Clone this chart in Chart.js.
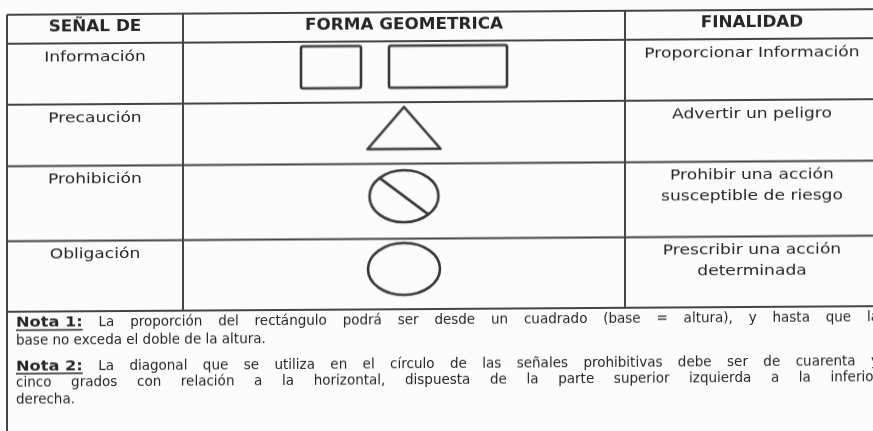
<!DOCTYPE html>
<html>
<head>
<meta charset="utf-8">
<script src="https://cdn.jsdelivr.net/npm/chart.js@4.4.0/dist/chart.umd.min.js"></script>
<style>
  html, body { margin: 0; padding: 0; background: #fbfbfb; overflow: hidden; }
  /* the scanned page is sheared a little: right side sits higher */
  canvas { display: block; transform: skewY(-0.37deg); }
</style>
</head>
<body>
<canvas id="signs" width="873" height="431"></canvas>
<script>
// table content
var headers = ["SEÑAL DE", "FORMA GEOMETRICA", "FINALIDAD"];
var categories = ["Información", "Precaución", "Prohibición", "Obligación"];
var purposes = [
    ["Proporcionar Información"],
    ["Advertir un peligro"],
    ["Prohibir una acción", "susceptible de riesgo"],
    ["Prescribir una acción", "determinada"]
];
var shapes = [["square", "rectangle"], ["triangle"], ["prohibition"], ["circle"]];
var noteLabels = ["Nota 1:", "Nota 2:"];
var noteLines = [
    ["La proporción del rectángulo podrá ser desde un cuadrado (base = altura), y hasta que la",
     "base no exceda el doble de la altura."],
    ["La diagonal que se utiliza en el círculo de las señales prohibitivas debe ser de cuarenta y",
     "cinco grados con relación a la horizontal, dispuesta de la parte superior izquierda a la inferior",
     "derecha."]
];

// page geometry (in scale units = px)
var layout = {
    cols: [7, 183, 625, 879],
    rows: [12, 41, 102, 163.5, 238.5, 309],
    bottom: 431,
    headerY: 25.5,
    labelDy: 14,
    purposeDy: 14,
    purposeGap: 21,
    shapeDy: -5,
    shapeGap: 28,
    notesX: 16,
    notesRight: 879,
    notesY: [[320.5, 338.5], [364, 380.5, 397.5]]
};
var ink = "#262626";
var lineInk = "#444444";

// icon sizes for the geometric forms
var iconSize = {
    square: [60, 42],
    rectangle: [118, 42],
    triangle: [73, 42],
    prohibition: [69, 52],
    circle: [72, 52]
};

function makeIcon(kind) {
    var w = iconSize[kind][0], h = iconSize[kind][1], pad = 3;
    var c = document.createElement("canvas");
    c.width = w + pad * 2;
    c.height = h + pad * 2;
    var g = c.getContext("2d");
    g.strokeStyle = "#383838";
    g.lineWidth = 2.6;
    g.lineJoin = "round";
    g.translate(pad, pad);
    g.beginPath();
    if (kind === "square" || kind === "rectangle") {
        g.roundRect(0, 0, w, h, 2);
    } else if (kind === "triangle") {
        g.moveTo(w / 2, 0);
        g.lineTo(w, h);
        g.lineTo(0, h);
        g.closePath();
    } else {
        g.ellipse(w / 2, h / 2, w / 2, h / 2, 0, 0, Math.PI * 2);
        if (kind === "prohibition") {
            var a = -3 * Math.PI / 4;
            g.moveTo(w / 2 + Math.cos(a) * w / 2, h / 2 + Math.sin(a) * h / 2);
            g.lineTo(w / 2 - Math.cos(a) * w / 2, h / 2 - Math.sin(a) * h / 2);
        }
    }
    g.stroke();
    return c;
}
var icons = {};
Object.keys(iconSize).forEach(function (k) { icons[k] = makeIcon(k); });

// one point per form, centred in its cell
var points = [];
shapes.forEach(function (row, i) {
    var total = row.reduce(function (s, k) { return s + iconSize[k][0]; }, 0) + layout.shapeGap * (row.length - 1);
    var x = (layout.cols[1] + layout.cols[2]) / 2 - total / 2;
    var y = (layout.rows[i + 1] + layout.rows[i + 2]) / 2 + layout.shapeDy;
    row.forEach(function (k) {
        points.push({ x: x + iconSize[k][0] / 2, y: y, kind: k });
        x += iconSize[k][0] + layout.shapeGap;
    });
});

// the scanned font is much wider than DejaVu, so stretch it a bit
function wideText(ctx, text, x, y, k) {
    ctx.save();
    ctx.translate(x, y);
    ctx.scale(k, 1);
    ctx.fillText(text, 0, 0);
    ctx.restore();
}

function drawWords(ctx, parts, x, y, right, justify) {
    // parts: [{text, font, k, underline}] ; underlined parts stay one token
    var words = [];
    parts.forEach(function (p) {
        var toks = p.underline ? [p.text] : p.text.split(" ");
        var k = p.k || 1;
        toks.forEach(function (w) {
            ctx.font = p.font;
            words.push({ t: w, font: p.font, k: k, u: p.underline, w: ctx.measureText(w).width * k });
        });
    });
    ctx.font = parts[parts.length - 1].font;
    var space = ctx.measureText(" ").width;
    var sum = words.reduce(function (s, w) { return s + w.w; }, 0);
    var gap = space;
    if (justify && words.length > 1) gap = Math.max(space * 0.8, (right - x - sum) / (words.length - 1));
    var cx = x;
    words.forEach(function (w) {
        ctx.font = w.font;
        wideText(ctx, w.t, cx, y, w.k);
        if (w.u) {
            ctx.beginPath();
            ctx.lineWidth = 1.4;
            ctx.moveTo(cx, y + 7);
            ctx.lineTo(cx + w.w, y + 7);
            ctx.stroke();
        }
        cx += w.w + gap;
    });
}

var tablePlugin = {
    id: "signTable",
    beforeDatasetsDraw: function (chart) {
        var ctx = chart.ctx, sx = chart.scales.x, sy = chart.scales.y;
        var X = function (v) { return sx.getPixelForValue(v); };
        var Y = function (v) { return sy.getPixelForValue(v); };
        var cols = layout.cols, rows = layout.rows;
        ctx.save();
        ctx.fillStyle = "#fbfbfb";
        ctx.fillRect(0, 0, chart.width, chart.height);
        ctx.strokeStyle = lineInk;
        ctx.lineWidth = 2;
        ctx.beginPath();
        rows.forEach(function (r) {
            ctx.moveTo(X(cols[0]), Y(r));
            ctx.lineTo(X(cols[3]), Y(r));
        });
        ctx.moveTo(X(cols[0]), Y(rows[0]));
        ctx.lineTo(X(cols[0]), Y(layout.bottom));
        [cols[1], cols[2], cols[3]].forEach(function (c) {
            ctx.moveTo(X(c), Y(rows[0]));
            ctx.lineTo(X(c), Y(rows[rows.length - 1]));
        });
        ctx.stroke();
        ctx.restore();
    },
    afterDatasetsDraw: function (chart) {
        var ctx = chart.ctx, sx = chart.scales.x, sy = chart.scales.y;
        var X = function (v) { return sx.getPixelForValue(v); };
        var Y = function (v) { return sy.getPixelForValue(v); };
        var cols = layout.cols, rows = layout.rows;
        ctx.save();
        ctx.fillStyle = ink;
        ctx.strokeStyle = ink;
        ctx.textBaseline = "middle";
        ctx.textAlign = "center";

        ctx.font = "bold 15px 'DejaVu Sans'";
        headers.forEach(function (h, i) {
            wideText(ctx, h, X((cols[i] + cols[i + 1]) / 2), Y(layout.headerY), 1.12);
        });

        ctx.font = "14.5px 'DejaVu Sans'";
        categories.forEach(function (c, i) {
            wideText(ctx, c, X((cols[0] + cols[1]) / 2), Y(rows[i + 1] + layout.labelDy), 1.18);
        });
        purposes.forEach(function (lines, i) {
            lines.forEach(function (t, j) {
                wideText(ctx, t, X((cols[2] + cols[3]) / 2), Y(rows[i + 1] + layout.purposeDy + j * layout.purposeGap), 1.18);
            });
        });

        ctx.textAlign = "left";
        var body = "13.5px 'DejaVu Sans'";
        var bold = "bold 13.5px 'DejaVu Sans'";
        noteLines.forEach(function (lines, n) {
            lines.forEach(function (t, j) {
                var parts = j === 0
                    ? [{ text: noteLabels[n], font: bold, k: 1.2, underline: true }, { text: t, font: body }]
                    : [{ text: t, font: body }];
                var justify = j < lines.length - 1;
                drawWords(ctx, parts, X(layout.notesX), Y(layout.notesY[n][j]), X(layout.notesRight), justify);
            });
        });
        ctx.restore();
    }
};

var ctx = document.getElementById("signs").getContext("2d");
var chart = new Chart(ctx, {
    type: "scatter",
    data: {
        datasets: [{
            label: "Forma geométrica",
            data: points,
            pointStyle: function (c) { return icons[c.raw.kind]; },
            pointRadius: 3
        }]
    },
    options: {
        responsive: false,
        animation: false,
        layout: { padding: 0, autoPadding: false },
        plugins: { legend: { display: false }, tooltip: { enabled: false } },
        events: [],
        scales: {
            x: { type: "linear", min: 0, max: 873, display: false },
            y: { type: "linear", min: 0, max: 431, reverse: true, display: false }
        }
    },
    plugins: [tablePlugin]
});
</script>
</body>
</html>
